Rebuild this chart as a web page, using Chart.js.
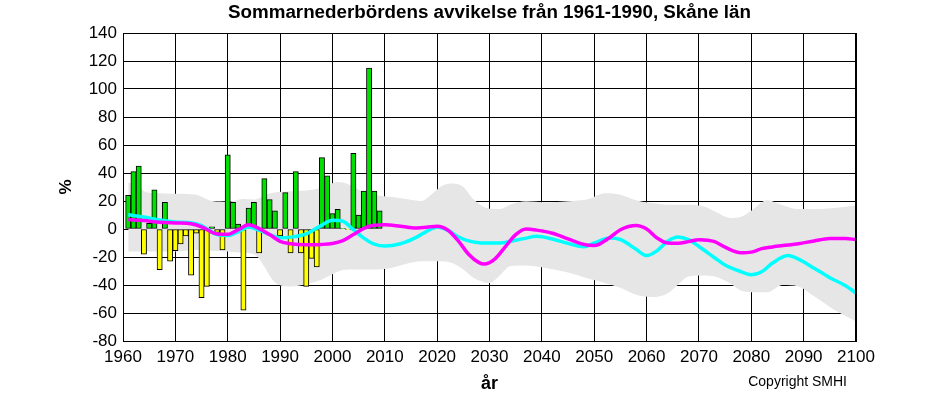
<!DOCTYPE html>
<html>
<head>
<meta charset="utf-8">
<script src="https://cdn.jsdelivr.net/npm/chart.js@4.4.1/dist/chart.umd.min.js"></script>
<style>
  html, body { margin: 0; padding: 0; background: #fff; }
  #wrap { width: 946px; height: 396px; }
</style>
</head>
<body>
<div id="wrap"><canvas id="chart" width="946" height="396"></canvas></div>
<script>
// Observerade sommaravvikelser (%), 1961-2009
const obsYears = [1961, 1962, 1963, 1964, 1965, 1966, 1967, 1968, 1969, 1970,
  1971, 1972, 1973, 1974, 1975, 1976, 1977, 1978, 1979, 1980,
  1981, 1982, 1983, 1984, 1985, 1986, 1987, 1988, 1989, 1990,
  1991, 1992, 1993, 1994, 1995, 1996, 1997, 1998, 1999, 2000,
  2001, 2002, 2003, 2004, 2005, 2006, 2007, 2008, 2009];
const obsValues = [24, 41, 45, -18, 4, 28, -29, 19, -23, -15.5,
  -10.7, -5, -33, -3, -49, -41, 1.5, -2.5, -15, 53,
  19, 3.6, -58, 15, 19, -17, 36, 21, 13, -5,
  26, -17, 41, -17, -41, -21, -27, 51, 38, 11,
  14, 0.5, -0.5, 54, 10, 27, 115, 27, 13];

// Grått spridningsband (min/max av scenarierna)
const bandYears = [1961, 1963, 1964, 1966, 1970, 1974, 1977, 1980, 1983, 1985,
  1986, 1987, 1989, 1992, 1995, 1998, 2001, 2003, 2005, 2008,
  2011, 2014, 2017, 2019, 2021, 2023, 2025, 2027, 2030, 2032,
  2034, 2037, 2041, 2045, 2049, 2052, 2055, 2058, 2061, 2064,
  2066, 2068, 2071, 2073, 2076, 2078, 2080, 2083, 2086, 2089,
  2092, 2096, 2100];
const bandTop = [33, 31.5, 27, 25.7, 25.2, 24.5, 20, 19.5, 21.5, 21,
  22, 24, 26, 27, 27.5, 29.5, 33.5, 32, 28, 24.5,
  23, 21.5, 20, 25, 31, 32.5, 30, 21, 14.5, 14.3,
  17.5, 19.8, 19, 19.8, 21.5, 25.5, 24.5, 20.5, 18.5, 17.4,
  17.4, 17.4, 16, 12.6, 7.9, 8.6, 13, 20.5, 17, 14.3,
  14.3, 15, 16.7];
const bandBottom = [-16, -16, -16, -16, -16, -15, -15.5, -16, -17, -18,
  -21, -27, -38, -41, -39.5, -36, -30.5, -29, -29, -29,
  -28, -25, -23, -23, -23, -24.5, -29, -35, -38.6, -33,
  -26.5, -26, -28, -31, -35.5, -38.5, -42, -47, -48.6, -46,
  -39.8, -34, -33.3, -34, -39, -44, -45.2, -45.2, -40, -41,
  -48, -58, -66];

// Två utjämnade scenariokurvor
const curveYears = [1961, 1964, 1967, 1970, 1973, 1975, 1978, 1980, 1982, 1984,
  1986, 1988, 1990, 1992, 1995, 1998, 2000, 2002, 2004, 2006,
  2008, 2010, 2013, 2016, 2018, 2020, 2022, 2024, 2026, 2028,
  2029, 2031, 2033, 2035, 2037, 2039, 2042, 2045, 2048, 2050,
  2053, 2055, 2058, 2060, 2062, 2064, 2066, 2068, 2070, 2073,
  2075, 2078, 2080, 2082, 2084, 2087, 2089, 2092, 2095, 2098, 2100];
const cyanValues = [10.2, 8.5, 6.5, 5, 4.4, 2.5, -4, -4.6, -2, 1.4,
  -1, -4, -6.3, -5.8, -3.5, 2.8, 6.2, 5.5, -0.5, -6.5,
  -10.8, -12.2, -10.5, -6, -1.7, 1.4, -0.8, -5.5, -8.5, -9.8,
  -10, -10, -9.6, -8, -6.5, -5.2, -7.2, -10.3, -12.7, -10,
  -6.4, -7.5, -14.5, -19, -15.5, -8.8, -5.7, -7.6, -12.5, -20.5,
  -25.7, -30.4, -32.6, -30.5, -24.5, -19, -21.5, -28, -34.8, -40.5, -45.7];
const magentaValues = [6.7, 6, 4.8, 4.3, 3.7, 1.5, -3.6, -3.8, -0.5, 3,
  0.3, -4, -8.8, -10.5, -11.2, -11, -10.3, -8.3, -4, 0.5,
  2.7, 3, 2, 0.8, 1.2, 2, -0.7, -8.3, -18, -24,
  -25, -21.5, -12.8, -4, 0, -0.8, -3, -7, -11, -11.8,
  -6, -0.5, 2.5, 0, -6.4, -10, -10.2, -9, -7.6, -9,
  -13, -17, -16.5, -14, -12.8, -11.5, -10.5, -8.5, -6.7, -6.7, -7.6];

const titleText = 'Sommarnederbördens avvikelse från 1961-1990, Skåne län';
const FONT = '"Liberation Sans", Arial, Helvetica, sans-serif';

const pts = (xs, ys) => xs.map((x, i) => ({ x: x, y: ys[i] }));

// titel, copyright och ram ritas ovanpå
const extras = {
  id: 'extras',
  afterDatasetsDraw(chart) {
    const { ctx, chartArea: a } = chart;
    ctx.save();
    ctx.strokeStyle = '#000';
    ctx.lineWidth = 1;
    ctx.strokeRect(a.left + 0.5, a.top + 0.5, a.right - a.left - 1, a.bottom - a.top);
    ctx.restore();
  },
  afterDraw(chart) {
    const { ctx, chartArea: a } = chart;
    ctx.save();
    ctx.fillStyle = '#000';
    ctx.font = 'bold 18.8px ' + FONT;
    ctx.textAlign = 'center';
    ctx.textBaseline = 'middle';
    ctx.fillText(titleText, (a.left + a.right) / 2, 12.5);
    ctx.font = '14px ' + FONT;
    ctx.textAlign = 'right';
    ctx.textBaseline = 'alphabetic';
    ctx.fillText('Copyright SMHI', 847, 386);
    ctx.restore();
  }
};

new Chart(document.getElementById('chart'), {
  type: 'bar',
  data: {
    datasets: [
      {
        type: 'line',
        data: pts(curveYears, magentaValues),
        borderColor: '#ff00ff',
        borderWidth: 3.5,
        pointRadius: 0,
        cubicInterpolationMode: 'monotone',
        fill: false,
        order: 0
      },
      {
        type: 'line',
        data: pts(curveYears, cyanValues),
        borderColor: '#00ffff',
        borderWidth: 3.5,
        pointRadius: 0,
        cubicInterpolationMode: 'monotone',
        fill: false,
        order: 1
      },
      {
        type: 'bar',
        data: pts(obsYears, obsValues),
        backgroundColor: obsValues.map(v => v >= 0 ? '#00e000' : '#ffff00'),
        borderColor: '#000',
        borderWidth: 1,
        borderSkipped: false,
        barPercentage: 1,
        categoryPercentage: 1,
        order: 2
      },
      {
        type: 'line',
        data: pts(bandYears, bandTop),
        borderWidth: 0,
        borderColor: 'rgba(0,0,0,0)',
        backgroundColor: '#e6e6e6',
        pointRadius: 0,
        cubicInterpolationMode: 'monotone',
        fill: '+1',
        order: 3
      },
      {
        type: 'line',
        data: pts(bandYears, bandBottom),
        borderWidth: 0,
        borderColor: 'rgba(0,0,0,0)',
        pointRadius: 0,
        cubicInterpolationMode: 'monotone',
        fill: false,
        order: 4
      }
    ]
  },
  options: {
    responsive: false,
    animation: false,
    events: [],
    layout: { padding: { top: 33, right: 90, left: 0, bottom: 0 } },
    plugins: {
      legend: { display: false },
      tooltip: { enabled: false },
      title: { display: false }
    },
    scales: {
      x: {
        type: 'linear',
        min: 1960,
        max: 2100,
        offset: false,
        grid: { color: '#000', lineWidth: 1, drawTicks: false, offset: false },
        border: { color: '#000', width: 1 },
        ticks: {
          stepSize: 10,
          autoSkip: false,
          maxRotation: 0,
          padding: 6,
          color: '#000',
          font: { family: FONT, size: 17 },
          callback: v => String(v)
        },
        title: {
          display: true,
          text: 'år',
          color: '#000',
          font: { family: FONT, size: 18, weight: 'bold' },
          padding: { top: 0, bottom: 1.5 }
        },
        afterFit: s => { s.height = 55; }
      },
      y: {
        min: -80,
        max: 140,
        grid: { color: '#000', lineWidth: 1, drawTicks: false },
        border: { color: '#000', width: 1 },
        ticks: {
          stepSize: 20,
          padding: 6,
          color: '#000',
          font: { family: FONT, size: 17 },
          callback: v => String(v)
        },
        title: {
          display: true,
          text: '%',
          color: '#000',
          font: { family: FONT, size: 17, weight: 'bold' },
          padding: { top: 56, bottom: 0 }
        },
        afterFit: s => { s.width = 123; }
      }
    }
  },
  plugins: [extras]
});
</script>
</body>
</html>
